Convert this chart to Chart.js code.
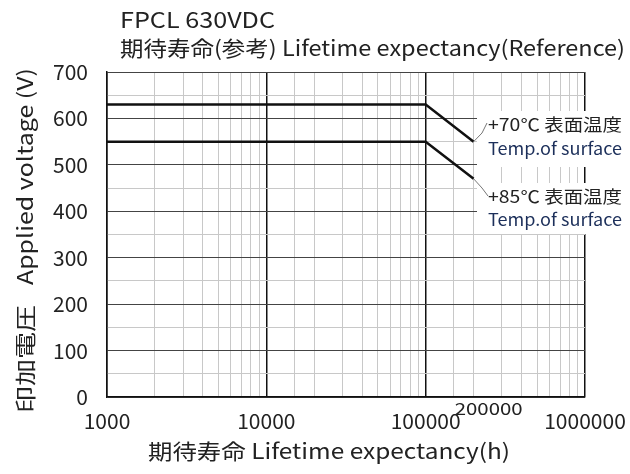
<!DOCTYPE html>
<html>
<head>
<meta charset="utf-8">
<script src="https://cdn.jsdelivr.net/npm/chart.js@4/dist/chart.umd.min.js"></script>
<style>
  html, body { margin: 0; padding: 0; background: #fff; }
  #wrap { width: 630px; height: 474px; }
</style>
</head>
<body>
<div id="wrap"><canvas id="c" width="630" height="474"></canvas></div>
<script>
// Datos
const lifeHours = [1000, 100000, 200000];
const volt70 = [630, 630, 550];
const volt85 = [550, 550, 470];
const xTickLabels = [1000, 10000, 100000, 1000000];
const extraXLabel = 200000;

const FONT = '"Noto Sans CJK JP", "DejaVu Sans", sans-serif';

function toPoints(xs, ys) {
    return xs.map((x, i) => ({ x: x, y: ys[i] }));
}

function isDecade(v) {
    const l = Math.log10(v);
    return Math.abs(l - Math.round(l)) < 1e-9;
}

// Texto ajustado a un ancho dado (x = borde izquierdo)
function fillStretched(ctx, text, x, y, width) {
    const w = ctx.measureText(text).width;
    ctx.save();
    ctx.textAlign = 'left';
    ctx.translate(x, y);
    ctx.scale(width / w, 1);
    ctx.fillText(text, 0, 0);
    ctx.restore();
}

// Textos, lineas guia y etiqueta 200000
const textPlugin = {
    id: 'texts',
    afterDraw(chart) {
        const ctx = chart.ctx;
        const xs = chart.scales.x;
        const ys = chart.scales.y;
        ctx.save();

        // titulo
        ctx.fillStyle = '#222';
        ctx.textBaseline = 'middle';
        ctx.font = '22px ' + FONT;
        fillStretched(ctx, 'FPCL 630VDC', 120, 20, 155);
        ctx.font = '21px ' + FONT;
        fillStretched(ctx, '期待寿命(参考) Lifetime expectancy(Reference)', 120, 48, 505);

        // titulo eje x
        ctx.font = '21px ' + FONT;
        fillStretched(ctx, '期待寿命 Lifetime expectancy(h)', 148, 451, 362);

        // etiqueta 200000
        ctx.font = '17px ' + FONT;
        fillStretched(ctx, String(extraXLabel), xs.getPixelForValue(extraXLabel) - 19, 409, 68);

        // titulo eje y (rotado)
        ctx.translate(25, 0);
        ctx.rotate(-Math.PI / 2);
        ctx.font = '21px ' + FONT;
        fillStretched(ctx, 'Applied voltage (V)', -285, 0, 217);
        fillStretched(ctx, '印加電圧', -413, 0, 108);
        ctx.setTransform(1, 0, 0, 1, 0, 0);

        // cajas blancas de anotacion
        ctx.fillStyle = '#fff';
        ctx.fillRect(477, 111, 153, 56);
        ctx.fillRect(477, 183, 153, 51);

        // lineas guia
        const endx = xs.getPixelForValue(lifeHours[2]);
        const end70y = ys.getPixelForValue(volt70[2]);
        const end85y = ys.getPixelForValue(volt85[2]);
        ctx.strokeStyle = '#777';
        ctx.lineWidth = 1;
        ctx.beginPath();
        ctx.moveTo(endx, end70y);
        ctx.lineTo(482, 133);
        ctx.lineTo(487, 123);
        ctx.moveTo(endx, end85y);
        ctx.lineTo(482, 188);
        ctx.lineTo(488, 196);
        ctx.stroke();

        // textos de anotacion
        ctx.textBaseline = 'middle';
        ctx.font = '17px ' + FONT;
        ctx.fillStyle = '#222';
        fillStretched(ctx, '+70℃ 表面温度', 488, 125, 134);
        fillStretched(ctx, '+85℃ 表面温度', 488, 197, 134);
        ctx.fillStyle = '#1c2f5a';
        fillStretched(ctx, 'Temp.of surface', 488, 149, 134);
        fillStretched(ctx, 'Temp.of surface', 488, 220, 134);

        ctx.restore();
    }
};

new Chart(document.getElementById('c'), {
    type: 'scatter',
    data: {
        datasets: [
            {
                label: '+70℃',
                data: toPoints(lifeHours, volt70),
                showLine: true,
                borderColor: '#111',
                borderWidth: 2.5,
                pointRadius: 0,
                tension: 0
            },
            {
                label: '+85℃',
                data: toPoints(lifeHours, volt85),
                showLine: true,
                borderColor: '#111',
                borderWidth: 2.5,
                pointRadius: 0,
                tension: 0
            }
        ]
    },
    options: {
        responsive: false,
        animation: false,
        devicePixelRatio: 1,
        layout: { padding: { top: 72, right: 45, bottom: 0, left: 0 } },
        plugins: {
            legend: { display: false },
            tooltip: { enabled: false },
            title: { display: false }
        },
        scales: {
            x: {
                type: 'logarithmic',
                min: 1000,
                max: 1000000,
                afterFit(scale) {
                    scale.height = 77;
                    scale.paddingLeft = 0;
                    scale.paddingRight = 0;
                },
                border: { color: '#111', width: 1.5 },
                grid: {
                    drawTicks: false,
                    color: ctx => (ctx.tick && isDecade(ctx.tick.value)) ? '#111' : '#c8c8c8',
                    lineWidth: ctx => (ctx.tick && isDecade(ctx.tick.value)) ? 1.5 : 1
                },
                ticks: {
                    autoSkip: false,
                    maxRotation: 0,
                    padding: 11,
                    color: '#222',
                    font: { family: FONT, size: 21 },
                    callback: function(value) {
                        return xTickLabels.includes(value) ? String(value) : '';
                    }
                }
            },
            y: {
                min: 0,
                max: 700,
                afterFit(scale) {
                    scale.width = 107;
                    scale.paddingTop = 0;
                    scale.paddingBottom = 0;
                },
                border: { color: '#111', width: 1.5 },
                grid: {
                    drawTicks: false,
                    color: ctx => (ctx.tick && ctx.tick.value % 100 === 0) ? '#444' : '#c8c8c8',
                    lineWidth: 1
                },
                ticks: {
                    stepSize: 50,
                    autoSkip: false,
                    padding: 19,
                    color: '#222',
                    font: { family: FONT, size: 21 },
                    callback: function(value) {
                        return value % 100 === 0 ? String(value) : '';
                    }
                }
            }
        }
    },
    plugins: [textPlugin]
});
</script>
</body>
</html>
